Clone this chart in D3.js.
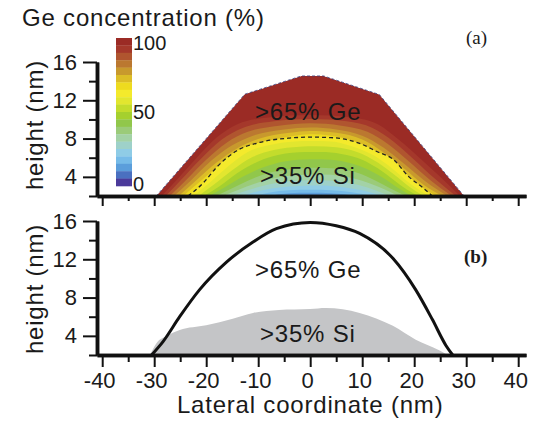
<!DOCTYPE html>
<html>
<head>
<meta charset="utf-8">
<script src="https://cdn.jsdelivr.net/npm/d3@7"></script>
<style>
  body { margin: 0; background: #fff; }
  svg text { font-family: "Liberation Sans", Arial, sans-serif; fill: #1a1a1a; }
</style>
</head>
<body>
<div id="canvas"></div>
<script>
// ---- data ----
const xMajor = [-40, -30, -20, -10, 0, 10, 20, 30, 40];
const xMinor = [-35, -25, -15, -5, 5, 15, 25, 35];
const yMajor = [4, 8, 12, 16];
const yMinor = [2, 6, 10, 14];

// colour bar: 20 steps of 5 %, listed from 100 down to 0
const cbColors = ["#9b2b25", "#a5382b", "#b0552f", "#bb7830", "#c8992d", "#dcbd27",
  "#eedb1f", "#f4ea2c", "#e2e62f", "#c3dc2c", "#a5d02e", "#91c74b", "#9bcb79",
  "#a3d2a6", "#9ed1c9", "#8fcce6", "#76bbe8", "#5b9edb", "#4a70c0", "#4b3a9a"];
const cbLabels = [100, 50, 0];

// (a) island outline [x nm, height nm]
const island = [[-29.6, 2], [-12.6, 12.63], [-1.7, 14.54], [2.6, 14.54], [13.3, 12.6], [29.6, 2]];

// (a) iso-concentration lines (% Ge)
const iso95 = [[-28.6,2],[-26,3.5],[-22,5.9],[-18,8.1],[-14,9.5],[-8,10.2],[0,10.45],[8,10.2],[13,9.5],[17,7.9],[21,6.0],[25,4.0],[28.8,2]];
const iso90 = [[-27.8,2],[-25,3.6],[-21,5.9],[-17,7.9],[-13,9.1],[-7,9.8],[0,10.05],[7,9.8],[12,9.1],[16,7.7],[20,5.8],[24,3.8],[28,2]];
const iso85 = [[-27,2],[-24,3.6],[-20,5.8],[-16,7.6],[-12,8.7],[-6,9.35],[0,9.6],[6,9.35],[11,8.7],[15,7.4],[19,5.6],[23,3.7],[27.2,2]];
const iso80 = [[-26.2,2],[-23,3.6],[-19,5.7],[-15,7.3],[-11,8.3],[-5,8.95],[0,9.15],[5,8.95],[10,8.3],[14,7.1],[18,5.4],[22,3.6],[26.4,2]];
const iso75 = [[-25.3,2],[-22,3.6],[-18,5.5],[-14,7.0],[-10,7.95],[-4,8.6],[0,8.8],[5,8.6],[10,7.9],[14,6.6],[18,4.9],[22,3.1],[25.5,2]];
const iso70 = [[-24.4,2],[-21,3.6],[-17,5.4],[-13,6.8],[-9,7.6],[-3,8.3],[0,8.45],[4,8.3],[9,7.6],[13,6.4],[17,4.8],[21,3.0],[24.5,2]];
const iso65 = [[-23.5,2],[-20.5,3.4],[-18,5.0],[-14.2,6.7],[-9.7,7.6],[-4,8.05],[0,8.15],[4,8.1],[9.5,7.5],[13,6.6],[15.8,5.9],[19,4.0],[21.6,2.9],[23.5,2]];
const iso60 = [[-22.5,2],[-19.5,3.3],[-16,5.0],[-12,6.6],[-8,7.3],[-3,7.7],[0,7.75],[4,7.7],[8,7.2],[12,6.3],[15,5.2],[18.5,3.6],[22.8,2]];
const iso55 = [[-21.5,2],[-18.5,3.2],[-15,4.7],[-11,6.1],[-7,6.8],[-2,7.15],[1,7.2],[5,7.1],[9,6.6],[13,5.5],[16,4.3],[19,3.0],[21.8,2]];
const iso50 = [[-20.5,2],[-17.5,3.0],[-14,4.4],[-10,5.6],[-6,6.3],[-1,6.6],[2,6.6],[6,6.4],[10,5.8],[13,4.9],[16,3.7],[18.5,2.7],[20.8,2]];
const iso45 = [[-19.5,2],[-16.5,2.9],[-13,4.0],[-9,5.0],[-5,5.6],[0,5.85],[4,5.8],[8,5.4],[11,4.8],[14,3.9],[17,2.8],[19.5,2]];
const iso40 = [[-18.2,2],[-15,2.8],[-12,3.6],[-8,4.4],[-4,4.8],[0,4.95],[4,4.9],[8,4.6],[11,4.0],[14,3.2],[16.5,2.5],[18.5,2]];
const iso35 = [[-16.8,2],[-14,2.6],[-10,3.4],[-6,3.95],[-2,4.2],[2,4.25],[6,4.1],[10,3.6],[13,3.0],[15.5,2.4],[17,2]];
const iso30 = [[-15.2,2],[-12,2.6],[-8,3.2],[-4,3.55],[0,3.65],[4,3.6],[8,3.3],[11,2.9],[14,2.3],[15.5,2]];
const iso25 = [[-13.2,2],[-10,2.5],[-6,2.9],[-2,3.05],[2,3.1],[6,2.95],[10,2.6],[14,2]];
const iso20 = [[-11,2],[-8,2.35],[-4,2.6],[0,2.65],[4,2.6],[8,2.4],[12,2]];
const iso15 = [[-8,2],[-4,2.3],[0,2.35],[4,2.3],[9,2]];
const iso10 = [[-4,2],[0,2.12],[5,2]];
const isoLevels = [95, 90, 85, 80, 75, 70, 65, 60, 55, 50, 45, 40, 35, 30, 25, 20, 15, 10];
const isoLines = [iso95, iso90, iso85, iso80, iso75, iso70, iso65, iso60, iso55, iso50, iso45, iso40, iso35, iso30, iso25, iso20, iso15, iso10];

// (b) profile line and Si-rich region
const profileB = [[-30.5,2],[-28.3,3.4],[-25.1,6.0],[-21.3,8.8],[-16.1,11.7],[-11,13.8],[-6.5,15.2],[0,15.85],[5,15.5],[9.5,14.7],[15.9,12.1],[20.3,8.8],[23.5,5.7],[26.1,3.0],[27.4,2]];
const siRegionB = [[-30.8,2],[-29.6,3.2],[-27.5,4.0],[-25.1,4.6],[-20,5.1],[-14.9,5.8],[-11,6.4],[-6,6.7],[0,6.8],[3,6.9],[9.5,6.4],[15.9,5.05],[20.3,3.6],[24.8,2.5],[26.4,2]];

// ---- drawing ----
const width = 543, height = 421;
const svg = d3.select("#canvas").append("svg")
  .attr("width", width).attr("height", height);

const x = d3.scaleLinear().domain([-41, 41.5]).range([97, 526]);
const yA = d3.scaleLinear().domain([2, 16]).range([196, 62]);
const yB = d3.scaleLinear().domain([2, 16]).range([355, 221]);

function axes(y, xTickLen, showXLabels) {
  const gy = svg.append("g").attr("transform", `translate(${x.range()[0]},0)`);
  gy.append("g").call(d3.axisLeft(y).tickValues(yMinor).tickSize(8).tickSizeOuter(0).tickFormat(""));
  gy.append("g").call(d3.axisLeft(y).tickValues(yMajor).tickSize(14).tickSizeOuter(0).tickPadding(6).tickFormat(d => String(d)));
  const gx = svg.append("g").attr("transform", `translate(0,${y(2)})`);
  gx.append("g").call(d3.axisBottom(x).tickValues(xMinor).tickSize(xTickLen - 5).tickSizeOuter(0).tickFormat(""));
  const maj = gx.append("g").call(d3.axisBottom(x).tickValues(xMajor).tickSize(xTickLen).tickSizeOuter(0)
    .tickPadding(5).tickFormat(d => String(d)));
  if (!showXLabels) maj.selectAll("text").remove();
  svg.selectAll(".domain").attr("stroke", "#111").attr("stroke-width", 3.5);
  svg.selectAll(".tick line").attr("stroke", "#111").attr("stroke-width", 2);
  svg.selectAll(".tick text").attr("font-size", 22).attr("fill", "#1a1a1a")
    .style("font-family", "'Liberation Sans', Arial, sans-serif");
  maj.selectAll("text").attr("dx", -3);
}

// panel (a)
const lineA = d3.line().x(d => x(d[0])).y(d => yA(d[1]));
const areaA = d3.area().x(d => x(d[0])).y0(yA(2)).y1(d => yA(d[1])).curve(d3.curveMonotoneX);

svg.append("clipPath").attr("id", "islandClip")
  .append("path").attr("d", lineA(island) + "Z");

const gA = svg.append("g").attr("clip-path", "url(#islandClip)");
gA.append("path").attr("d", lineA(island) + "Z").attr("fill", cbColors[0]);
isoLines.forEach((pts, i) => {
  gA.append("path").attr("d", areaA(pts)).attr("fill", cbColors[i + 1]);
});
gA.append("path")
  .attr("d", d3.line().x(d => x(d[0])).y(d => yA(d[1])).curve(d3.curveMonotoneX)(iso65))
  .attr("fill", "none").attr("stroke", "#222").attr("stroke-width", 1.3)
  .attr("stroke-dasharray", "4,3");
svg.append("path").attr("d", lineA(island))
  .attr("fill", "none").attr("stroke", "#3b3f7a").attr("stroke-width", 1)
  .attr("stroke-dasharray", "3,2").attr("opacity", 0.8);

axes(yA, 10, false);

svg.append("text").attr("x", 255).attr("y", 120).attr("font-size", 24)
  .attr("letter-spacing", 0.8).text(">65% Ge");
svg.append("text").attr("x", 260).attr("y", 184).attr("font-size", 24)
  .attr("letter-spacing", 0.8).text(">35% Si");
svg.append("text").attr("x", 466).attr("y", 44).attr("font-size", 19)
  .style("font-family", "'Liberation Serif', 'Times New Roman', serif").text("(a)");

// colour bar
const cb = d3.scaleBand().domain(d3.range(cbColors.length)).range([38, 186]);
const cbVal = d3.scaleLinear().domain([0, 100]).range([186, 38]);
svg.append("g").selectAll("rect").data(cbColors).join("rect")
  .attr("x", 116).attr("width", 16)
  .attr("y", (d, i) => cb(i)).attr("height", cb.bandwidth() + 0.3)
  .attr("fill", d => d);
svg.append("g").selectAll("text").data(cbLabels).join("text")
  .attr("x", 133).attr("y", d => cbVal(d) + (d === 100 ? 12 : d === 50 ? 7 : 5))
  .attr("font-size", 20).text(d => d);

svg.append("text").attr("x", 22).attr("y", 26).attr("font-size", 24)
  .attr("letter-spacing", 0.8).text("Ge concentration (%)");

// panel (b)
const curveB = d3.line().x(d => x(d[0])).y(d => yB(d[1])).curve(d3.curveMonotoneX);
const areaB = d3.area().x(d => x(d[0])).y0(yB(2)).y1(d => yB(d[1])).curve(d3.curveMonotoneX);
svg.append("path").attr("d", areaB(siRegionB)).attr("fill", "#c4c5c7");
svg.append("path").attr("d", curveB(profileB)).attr("fill", "none")
  .attr("stroke", "#111").attr("stroke-width", 3);

axes(yB, 12, true);

svg.append("text").attr("x", 255).attr("y", 278).attr("font-size", 24)
  .attr("letter-spacing", 0.8).text(">65% Ge");
svg.append("text").attr("x", 260).attr("y", 342).attr("font-size", 24)
  .attr("letter-spacing", 0.8).text(">35% Si");
svg.append("text").attr("x", 464).attr("y", 263).attr("font-size", 19).attr("font-weight", "bold")
  .style("font-family", "'Liberation Serif', 'Times New Roman', serif").text("(b)");

// axis titles
[125, 289].forEach(cy => {
  svg.append("text").attr("transform", `translate(43,${cy}) rotate(-90)`)
    .attr("text-anchor", "middle").attr("font-size", 24).attr("letter-spacing", 0.8)
    .text("height (nm)");
});
svg.append("text").attr("x", x(0)).attr("y", 413).attr("text-anchor", "middle")
  .attr("font-size", 24).attr("letter-spacing", 0.8).text("Lateral coordinate (nm)");
</script>
</body>
</html>
